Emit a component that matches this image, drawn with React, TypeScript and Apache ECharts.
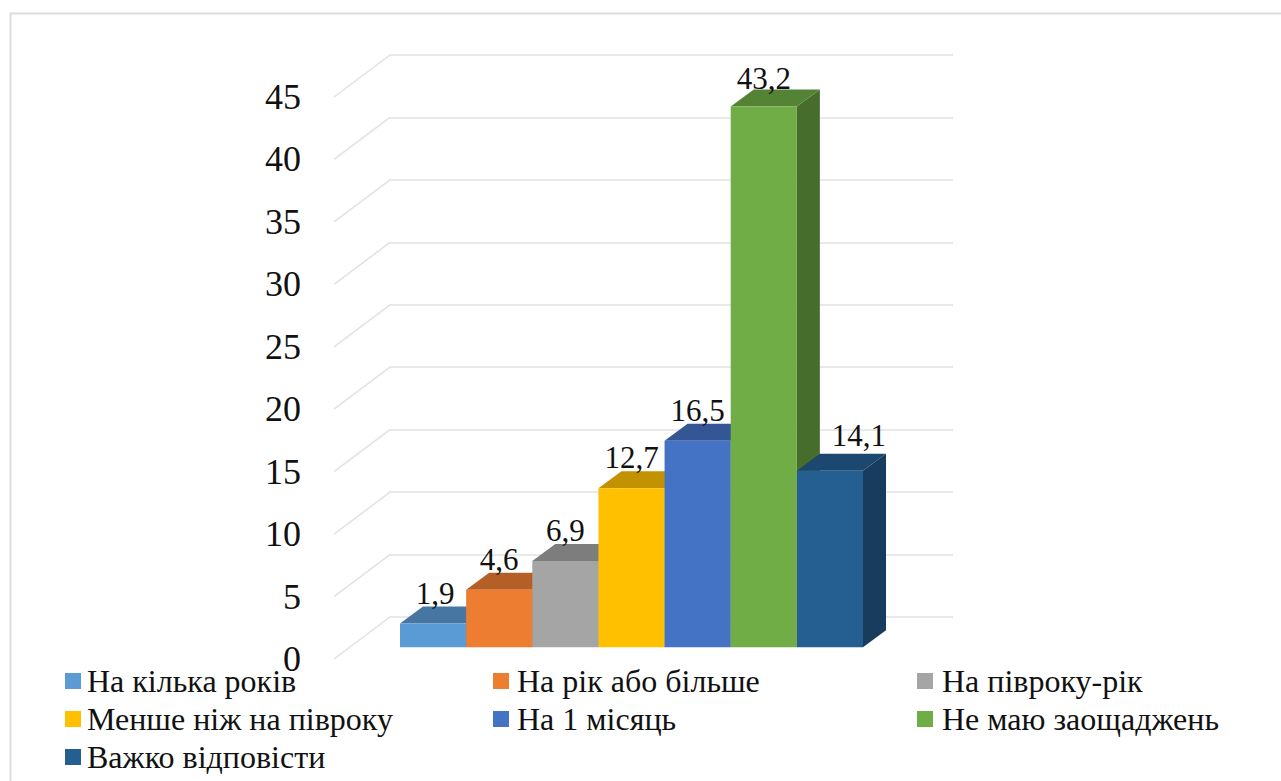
import React, { useEffect, useRef } from "react";
import * as echarts from "echarts";

const categories = ["На кілька років", "На рік або більше", "На півроку-рік", "Менше ніж на півроку", "На 1 місяць", "Не маю заощаджень", "Важко відповісти"];
const values = [1.9, 4.6, 6.9, 12.7, 16.5, 43.2, 14.1];
const valueLabels = ["1,9", "4,6", "6,9", "12,7", "16,5", "43,2", "14,1"];
const frontColors = ["#5B9BD5", "#ED7D31", "#A5A5A5", "#FFC000", "#4472C4", "#70AD47", "#255E91"];
const topColors = ["#4876A2", "#B45F25", "#7D7D7D", "#C29200", "#345695", "#558336", "#1C476E"];
const sideColors = ["#3C6488", "#9A4F1F", "#696969", "#A37A00", "#2C4A7E", "#476D2D", "#183C5D"];
const yTicks = [0, 5, 10, 15, 20, 25, 30, 35, 40, 45];

const DEPTH_X = 23;
const DEPTH_Y = 17;
const FONT = '"Liberation Serif", serif';

const legendPos = [
  [65, 665], [493, 665], [917, 665],
  [65, 703], [493, 703], [917, 703],
  [65, 741],
];
const legendTextPad = [1, 3, 4];

export default function App() {
  const ref = useRef<HTMLDivElement>(null);
  useEffect(() => {
    document.body.style.margin = "0";
    const chart = echarts.init(ref.current!, undefined, { renderer: "svg" });
    const barSeries = categories.map((name, idx) => ({
      type: "custom",
      name,
      xAxisIndex: 0,
      yAxisIndex: 0,
      z: 5,
      itemStyle: { color: frontColors[idx] },
      data: [[idx, values[idx]]],
      renderItem: (_p: any, api: any) => {
        const i = api.value(0);
        const v = api.value(1);
        const top = api.coord([i, v]);
        const base = api.coord([i, 0]);
        const w = api.size([1, 0])[0];
        const x0 = top[0] - w / 2;
        const x1 = top[0] + w / 2;
        const yt = top[1];
        const yb = base[1];
        const labelShift = i === 6 ? 29 : i === 0 ? 2 : 0;
        const baselineGap = i === 6 ? 24 : i === 5 ? 16 : 19;
        return {
          type: "group",
          children: [
            { type: "polygon", shape: { points: [[x1, yt], [x1 + DEPTH_X, yt - DEPTH_Y], [x1 + DEPTH_X, yb - DEPTH_Y], [x1, yb]] }, style: { fill: sideColors[i] } },
            { type: "polygon", shape: { points: [[x0, yt], [x0 + DEPTH_X, yt - DEPTH_Y], [x1 + DEPTH_X, yt - DEPTH_Y], [x1, yt]] }, style: { fill: topColors[i] } },
            { type: "rect", shape: { x: x0, y: yt, width: w, height: yb - yt }, style: { fill: frontColors[i] } },
            { type: "text", z2: 50, style: { x: top[0] + labelShift, y: yt - baselineGap + 4, text: valueLabels[i], fill: "#111", font: `31px ${FONT}`, align: "center", verticalAlign: "bottom" } },
          ],
        };
      },
    }));
    const option: any = {
      animation: false,
      backgroundColor: "#fff",
      graphic: [
        { type: "rect", silent: true, z: 0, shape: { x: 10.5, y: 13.5, width: 1290, height: 800 }, style: { fill: "none", stroke: "#dcdcdc", lineWidth: 2 } },
      ],
      grid: [
        { left: 400, width: 463, top: 83.9, height: 563.4, containLabel: false },
        { left: 389, width: 564, top: 55, height: 562 },
        { left: 334, width: 100, top: 97, height: 562 },
      ],
      xAxis: [
        { gridIndex: 0, type: "category", data: categories, show: false },
        { gridIndex: 1, type: "value", min: 0, max: 1, show: false },
        { gridIndex: 2, type: "value", min: 0, max: 1, show: false },
      ],
      yAxis: [
        { gridIndex: 0, type: "value", min: 0, max: 45, interval: 5, show: false },
        { gridIndex: 1, type: "value", min: 0, max: 45, interval: 5, axisLabel: { show: false }, axisLine: { show: false }, axisTick: { show: false }, splitLine: { show: true, lineStyle: { color: "#e2e2e2", width: 1.5 } } },
        { gridIndex: 2, type: "value", min: 0, max: 45, interval: 5, axisLine: { show: false }, axisTick: { show: false }, splitLine: { show: false }, axisLabel: { color: "#111", fontFamily: FONT, fontSize: 36, margin: 33, padding: [4, 0, 0, 0] } },
      ],
      legend: categories.map((name, i) => ({
        data: [name],
        left: legendPos[i][0],
        top: legendPos[i][1],
        padding: 0,
        itemWidth: 16,
        itemHeight: 16,
        icon: "rect",
        selectedMode: false,
        textStyle: { color: "#111", fontFamily: FONT, fontSize: 32, padding: [0, 0, 0, legendTextPad[i % 3]] },
      })),
      series: [
        {
          type: "custom",
          name: "grid-depth",
          xAxisIndex: 2,
          yAxisIndex: 2,
          z: 1,
          silent: true,
          data: yTicks.map((t) => [0, t]),
          renderItem: (_p: any, api: any) => {
            const p = api.coord([0, api.value(1)]);
            return { type: "line", shape: { x1: p[0], y1: p[1], x2: p[0] + 56, y2: p[1] - 42 }, style: { stroke: "#e2e2e2", lineWidth: 1.5, fill: "none" } };
          },
        },
        ...barSeries,
      ],
    };
    chart.setOption(option);
    return () => chart.dispose();
  }, []);
  return <div ref={ref} style={{ width: 1281, height: 781 }} />;
}
